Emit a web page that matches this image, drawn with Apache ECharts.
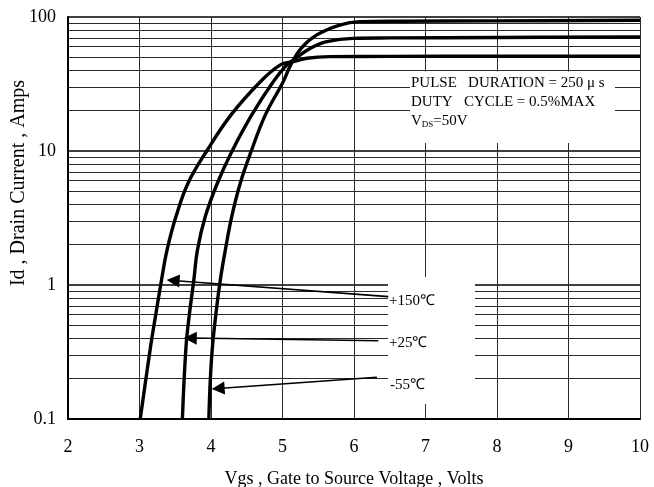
<!DOCTYPE html>
<html>
<head>
<meta charset="utf-8">
<script src="https://cdn.jsdelivr.net/npm/echarts@6/dist/echarts.min.js"></script>
<style>
  html, body { margin: 0; padding: 0; background: #fff; }
  #chart { width: 654px; height: 487px; }
</style>
</head>
<body>
<div id="chart"></div>
<script>
// transfer curves, Id vs Vgs at three temperatures
let vgs150 = [3.01, 3.154, 3.231, 3.308, 3.385, 3.51, 3.68, 3.94, 4.28, 4.69, 4.97, 5.15, 5.34, 5.66, 6.5, 8, 10]
let id150 = [0.1, 0.344, 0.618, 1.09, 1.82, 3.24, 5.77, 10.0, 18.6, 32.9, 43.9, 46.4, 49.2, 50.6, 50.8, 51, 51]
let vgs25 = [3.60, 3.65, 3.70, 3.76, 3.81, 3.92, 4.09, 4.29, 4.57, 4.87, 5.06, 5.15, 5.39, 5.62, 5.99, 6.5, 8, 10]
let id25 = [0.1, 0.344, 0.618, 1.09, 1.82, 3.24, 5.77, 9.88, 18.6, 32.9, 43.9, 47.7, 58.4, 65.5, 69.3, 69.8, 70.3, 71]
let vgsM55 = [3.97, 3.99, 4.02, 4.07, 4.13, 4.20, 4.29, 4.41, 4.56, 4.76, 5.01, 5.115, 5.26, 5.48, 5.80, 6.08, 6.64, 8, 10]
let idM55 = [0.1, 0.195, 0.344, 0.618, 1.09, 1.82, 3.24, 5.77, 9.88, 18.6, 32.9, 43.9, 58.4, 73.5, 87.1, 92.3, 93, 93.5, 94.5]

// arrows: [startX, startY, endX, endY]
let arrow150 = [6.48, 0.819, 3.47, 1.08]
let arrow25 = [6.34, 0.384, 3.71, 0.402]
let arrowM55 = [6.32, 0.205, 4.10, 0.169]

let xTicks = [2, 3, 4, 5, 6, 7, 8, 9, 10]
let yTicks = [0.1, 1, 10, 100]
let minorGrid = [0.2, 0.3, 0.4, 0.5, 0.6, 0.7, 0.8, 0.9, 2, 3, 4, 5, 6, 7, 8, 9, 20, 30, 40, 50, 60, 70, 80, 90]

let serif = 'Liberation Serif'
let gridColor = '#2a2a2a'

function zip(xs, ys) {
  return xs.map((x, i) => [x, ys[i]])
}
function arrowData(a) {
  return [[{ coord: [a[0], a[1]] }, { coord: [a[2], a[3]] }]]
}
function curve(name, xs, ys) {
  return {
    name: name,
    type: 'line',
    z: 3,
    data: zip(xs, ys),
    smooth: 0.4,
    showSymbol: false,
    symbol: 'none',
    lineStyle: { color: '#000', width: 3.4 },
    emphasis: { disabled: true }
  }
}

let chart = echarts.init(document.getElementById('chart'), null, { renderer: 'canvas' })

let option = {
  backgroundColor: '#fff',
  animation: false,
  grid: { left: 68, right: 14, top: 17, bottom: 68, outerBoundsMode: 'none', containLabel: false },
  xAxis: {
    type: 'value',
    min: xTicks[0],
    max: xTicks[xTicks.length - 1],
    interval: 1,
    name: 'Vgs , Gate to Source Voltage , Volts',
    nameLocation: 'middle',
    nameGap: 51,
    nameMoveOverlap: false,
    nameTextStyle: { fontFamily: serif, fontSize: 18, color: '#000' },
    axisLine: { lineStyle: { color: '#000', width: 2 } },
    axisTick: { show: false },
    axisLabel: { fontFamily: serif, fontSize: 18, color: '#000', margin: 19 },
    splitLine: { show: true, lineStyle: { color: gridColor, width: 1 } }
  },
  yAxis: {
    type: 'log',
    logBase: 10,
    min: yTicks[0],
    max: yTicks[yTicks.length - 1],
    name: 'Id , Drain Current , Amps',
    nameLocation: 'middle',
    nameGap: 39,
    nameMoveOverlap: false,
    nameTextStyle: { fontFamily: serif, fontSize: 20, color: '#000', padding: [0, 0, 0, 70] },
    axisLine: { show: true, lineStyle: { color: '#000', width: 2 } },
    axisTick: { show: false },
    axisLabel: {
      fontFamily: serif, fontSize: 18, color: '#000', margin: 12,
      formatter: v => String(v)
    },
    splitLine: { show: true, lineStyle: { color: '#000', width: 1.5 } }
  },
  graphic: [
    // white boxes that blank the grid behind the notes
    { type: 'rect', z: 1, shape: { x: 410, y: 71.5, width: 205, height: 71.5 }, style: { fill: '#fff' }, silent: true },
    { type: 'rect', z: 1, shape: { x: 388, y: 277, width: 87, height: 127 }, style: { fill: '#fff' }, silent: true },
    {
      type: 'text', z: 4, left: 411, top: 76,
      style: { text: 'PULSE   DURATION = 250 μ s', font: '15px "Liberation Serif"', fill: '#000' }
    },
    {
      type: 'text', z: 4, left: 411, top: 95,
      style: { text: 'DUTY   CYCLE = 0.5%MAX', font: '15px "Liberation Serif"', fill: '#000' }
    },
    {
      type: 'text', z: 4, left: 411, top: 114,
      style: {
        text: '{a|V}{s|DS}{a|=50V}',
        rich: {
          a: { fontFamily: serif, fontSize: 15, fill: '#000', verticalAlign: 'bottom' },
          s: { fontFamily: serif, fontSize: 9, fill: '#000', verticalAlign: 'bottom' }
        }
      }
    },
    { type: 'text', z: 4, left: 389, top: 294, style: { text: '+150℃', font: '15px "Liberation Serif"', fill: '#000' } },
    { type: 'text', z: 4, left: 389, top: 336, style: { text: '+25℃', font: '15px "Liberation Serif"', fill: '#000' } },
    { type: 'text', z: 4, left: 390, top: 378, style: { text: '-55℃', font: '15px "Liberation Serif"', fill: '#000' } }
  ],
  series: [
    {
      // minor log grid lines
      name: 'grid',
      type: 'line',
      z: 0,
      data: [],
      markLine: {
        z: 0,
        silent: true,
        animation: false,
        symbol: 'none',
        label: { show: false },
        emphasis: { disabled: true },
        lineStyle: { color: gridColor, width: 1, type: 'solid' },
        data: minorGrid.map(v => ({ yAxis: v }))
      }
    },
    curve('+150℃', vgs150, id150),
    curve('+25℃', vgs25, id25),
    curve('-55℃', vgsM55, idM55),
    {
      name: 'arrows',
      type: 'line',
      z: 5,
      data: [],
      markLine: {
        z: 5,
        silent: true,
        animation: false,
        symbol: ['none', 'triangle'],
        symbolSize: 13,
        label: { show: false },
        emphasis: { disabled: true },
        itemStyle: { color: '#000' },
        lineStyle: { color: '#000', width: 1.6, type: 'solid' },
        data: [].concat(arrowData(arrow150), arrowData(arrow25), arrowData(arrowM55))
      }
    }
  ]
}

chart.setOption(option)
</script>
</body>
</html>
